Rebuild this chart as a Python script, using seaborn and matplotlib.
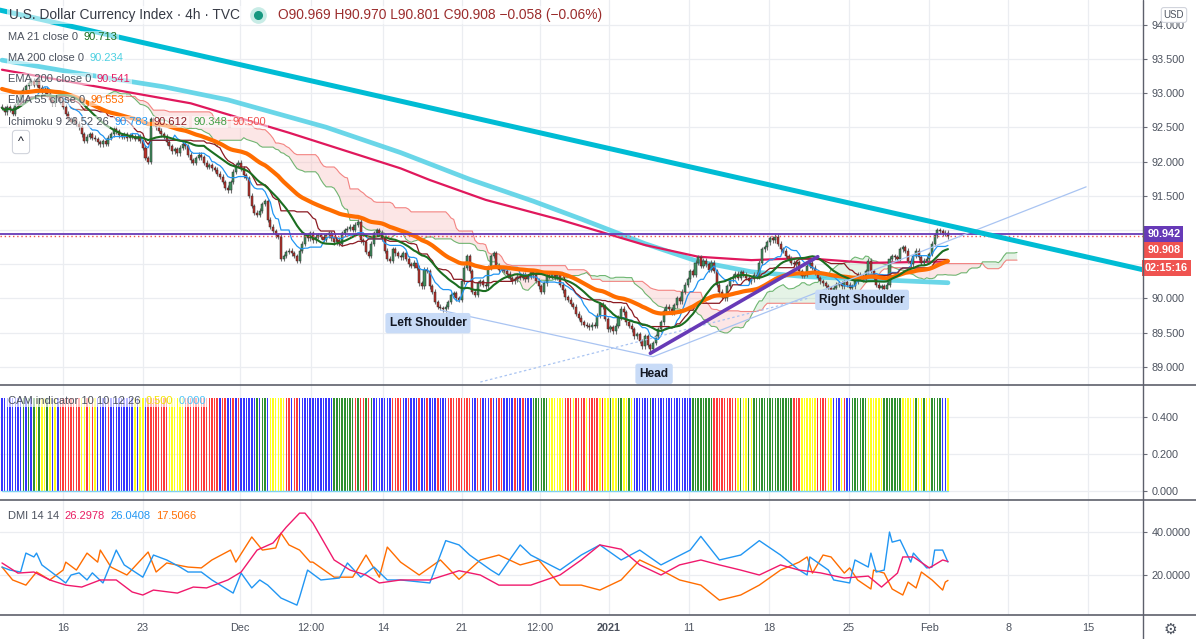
import numpy as np
import pandas as pd
import matplotlib
matplotlib.use("Agg")
import matplotlib.pyplot as plt
from matplotlib.lines import Line2D
import seaborn as sns

# ---------------- data ----------------
CLOSES = [
    92.78, 92.72, 92.80, 92.76, 92.70, 92.82, 92.90, 92.98, 93.05, 93.10,
    93.15, 93.18, 93.12, 93.20, 93.08, 93.02, 93.06, 92.98, 92.90, 92.85,
    92.92, 92.95, 92.88, 92.80, 92.70, 92.62, 92.58, 92.62, 92.55, 92.50,
    92.40, 92.30, 92.36, 92.40, 92.35, 92.33, 92.28, 92.25, 92.30, 92.26,
    92.35, 92.40, 92.48, 92.44, 92.38, 92.36, 92.40, 92.34, 92.38, 92.36,
    92.33, 92.36, 92.30, 92.20, 92.05, 92.00, 92.62, 92.55, 92.50, 92.45,
    92.40, 92.36, 92.28, 92.22, 92.15, 92.18, 92.12, 92.20, 92.26, 92.22,
    92.10, 92.02, 91.98, 92.05, 92.10, 92.06, 91.98, 91.92, 91.95, 91.90,
    91.88, 91.82, 91.78, 91.70, 91.62, 91.58, 91.70, 91.85, 91.95, 91.98,
    91.90, 91.80, 91.76, 91.50, 91.35, 91.25, 91.22, 91.28, 91.38, 91.42,
    91.15, 91.05, 90.98, 90.92, 90.90, 90.58, 90.62, 90.68, 90.70, 90.66,
    90.62, 90.55, 90.70, 90.80, 90.92, 90.88, 90.95, 90.85, 90.90, 90.92,
    90.90, 90.86, 90.92, 90.95, 90.88, 90.82, 90.86, 90.80, 90.95, 91.00,
    91.02, 91.05, 91.00, 91.08, 91.12, 90.85, 90.82, 90.68, 90.62, 90.80,
    90.95, 91.00, 90.96, 90.88, 90.70, 90.58, 90.55, 90.72, 90.66, 90.62,
    90.60, 90.66, 90.58, 90.50, 90.48, 90.52, 90.45, 90.22, 90.18, 90.42,
    90.40, 90.18, 90.10, 89.95, 89.88, 89.86, 89.84, 89.88, 89.95, 90.05,
    90.08, 90.00, 89.98, 90.25, 90.45, 90.62, 90.40, 90.10, 90.05, 90.22,
    90.25, 90.20, 90.18, 90.45, 90.62, 90.66, 90.48, 90.42, 90.44, 90.40,
    90.36, 90.30, 90.25, 90.28, 90.32, 90.30, 90.35, 90.28, 90.32, 90.38,
    90.34, 90.26, 90.18, 90.10, 90.22, 90.35, 90.32, 90.36, 90.30, 90.34,
    90.20, 90.12, 90.02, 89.98, 89.92, 89.88, 89.78, 89.72, 89.65, 89.62,
    89.60, 89.58, 89.62, 89.60, 89.75, 89.92, 89.88, 89.70, 89.55, 89.58,
    89.52, 89.60, 89.72, 89.85, 89.80, 89.65, 89.60, 89.55, 89.45, 89.48,
    89.38, 89.30, 89.45, 89.32, 89.26, 89.35, 89.45, 89.55, 89.65, 89.82,
    89.88, 89.84, 89.80, 89.90, 90.00, 89.96, 90.10, 90.20, 90.28, 90.40,
    90.35, 90.52, 90.60, 90.48, 90.55, 90.50, 90.42, 90.52, 90.40, 90.20,
    90.10, 90.02, 90.00, 90.18, 90.28, 90.32, 90.36, 90.30, 90.38, 90.35,
    90.30, 90.25, 90.28, 90.35, 90.32, 90.52, 90.72, 90.75, 90.82, 90.88,
    90.85, 90.90, 90.80, 90.72, 90.70, 90.62, 90.58, 90.52, 90.50, 90.53,
    90.40, 90.33, 90.35, 90.48, 90.52, 90.45, 90.38, 90.30, 90.25, 90.22,
    90.18, 90.15, 90.12, 90.16, 90.20, 90.22, 90.18, 90.24, 90.20, 90.16,
    90.18, 90.25, 90.35, 90.32, 90.28, 90.40, 90.55, 90.40, 90.30, 90.20,
    90.15, 90.18, 90.14, 90.20, 90.58, 90.62, 90.60, 90.58, 90.72, 90.75,
    90.70, 90.55, 90.50, 90.62, 90.70, 90.60, 90.52, 90.55, 90.58, 90.65,
    90.80, 90.92, 91.00, 90.98, 90.95, 90.96, 90.908,
]
FIRST_OPEN = 92.80
WICK = 0.035

MA200_X = [0, 30, 61, 85, 122, 150, 176, 200, 218, 242, 262, 282, 302, 332, 356]
MA200_Y = [93.48, 93.28, 93.09, 92.90, 92.50, 92.13, 91.74, 91.42, 91.16, 90.80,
           90.54, 90.39, 90.32, 90.27, 90.23]
EMA200_X = [0, 71, 108, 150, 161, 182, 210, 242, 262, 282, 302, 326, 356]
EMA200_Y = [93.34, 92.85, 92.42, 91.90, 91.73, 91.44, 91.15, 90.78, 90.61, 90.56,
            90.59, 90.52, 90.54]
EMA55_SEED = 93.07

# drawings (bar index, price)
TREND_X = [-0.75, 429.4]
TREND_Y = [94.21, 90.42]
NECK_X = [244, 307]
NECK_Y = [89.20, 90.61]
HS_X = [165, 245, 408]
HS_Y = [89.83, 89.15, 91.63]
HS_DOT_X = [180, 304]
HS_DOT_Y = [88.78, 90.01]
LAST_LEVEL = 90.942
LAST_PRICE = 90.908

CAM_RUNS = [
    "BBBBBBBB", "GBGBG", "YGYYG", "YBYB", "RRRRRRRR", "YYRYRY", "BBBBRBBBBBBBBB",
    "YBYYB", "RRRRRRRR", "YYYYYY", "RRRRRRRRRRRR", "RBRRBBRBRB", "BBBBB", "GBGGB",
    "YYYYYY", "RRBRRB", "BBBBBBBBBBBB", "GGGGGGGG", "RGRRGRG", "BBBBBBB", "RRRR",
    "BBRBBBRBBRBBBRBBB", "RRRRRRRRR", "BBRRBBBRBBRRBBBBRBBRBBB", "GGGGGG", "YYYYYY",
    "RRRYRRRRYRRRRYR", "YYGYYGGYYGY", "BBBBBBGBBBBBBBBBBBBBBB", "GGGGGGGG",
    "RRRRRRRRR", "YGYYGY", "GGGGGGGGGGGGGGG", "RRR", "YYYYYY", "RRRR", "YY", "BBB",
    "YR", "BB", "GGGGGG", "YYYYYY", "GGGGGGG", "YYYY", "YGYYGYY", "GGGG", "BB", "Y",
]
CAM_HEIGHT = 0.5

ADX_X = [0, 6, 12, 18, 24, 30, 37, 43, 49, 53, 57, 66, 72, 77, 85, 90, 96, 102, 107, 112,
         114, 117, 125, 131, 137, 142, 150, 161, 172, 180, 187, 199, 210, 218, 225, 233,
         240, 248, 255, 263, 270, 278, 285, 293, 300, 308, 317, 326, 331, 337, 339, 343,
         349, 354, 356]
ADX_Y = [25.6, 20.9, 21.4, 17.7, 15.3, 14.4, 17.7, 17.7, 12.1, 10.7, 13.0, 11.6, 14.4,
         14.0, 17.7, 21.4, 31.6, 34.9, 42.3, 48.8, 48.8, 44.2, 27.0, 22.3, 20.0, 16.3,
         17.7, 17.7, 22.0, 20.0, 15.3, 15.3, 20.0, 27.0, 34.0, 32.0, 24.7, 20.0, 24.7,
         27.0, 24.7, 22.3, 20.0, 24.7, 22.3, 21.0, 18.6, 19.5, 14.4, 20.9, 28.4, 28.4,
         23.3, 27.0, 26.3]
PDI_X = [0, 3, 7, 9, 12, 13, 15, 19, 24, 26, 29, 32, 34, 38, 43, 46, 53, 57, 62, 67,
         70, 75, 79, 87, 90, 94, 97, 100, 105, 111, 112, 115, 120, 127, 130, 135, 140,
         145, 150, 161, 167, 172, 176, 184, 187, 195, 199, 210, 218, 225, 233, 240, 248,
         259, 263, 270, 278, 285, 293, 300, 303, 304, 311, 313, 319, 321, 326, 327, 329,
         332, 334, 335, 338, 342, 343, 348, 350, 351, 354, 356]
PDI_Y = [23.7, 22.3, 21.4, 30.2, 28.4, 30.2, 24.7, 21.0, 16.3, 20.0, 21.0, 17.7, 21.0,
         16.3, 31.6, 24.7, 19.0, 29.3, 27.0, 23.7, 21.4, 21.4, 17.7, 11.6, 20.9, 14.0,
         17.7, 15.3, 9.3, 6.0, 9.7, 22.3, 17.7, 18.6, 25.6, 19.0, 23.7, 17.7, 17.7, 16.3,
         36.0, 34.0, 29.3, 22.3, 20.0, 34.0, 29.3, 22.3, 29.3, 34.0, 27.0, 31.6, 24.7,
         31.6, 38.0, 27.0, 29.3, 36.0, 29.3, 22.3, 20.0, 28.4, 22.3, 17.7, 16.3, 27.0,
         23.7, 30.2, 21.4, 22.3, 40.0, 35.3, 36.3, 26.0, 30.2, 23.3, 23.7, 31.6, 31.6,
         26.0]
MDI_X = [0, 4, 9, 13, 18, 23, 24, 28, 32, 36, 37, 41, 47, 55, 58, 62, 70, 75, 79, 86,
         88, 94, 98, 103, 105, 108, 112, 116, 117, 125, 132, 137, 142, 145, 150, 157,
         165, 172, 180, 187, 195, 202, 210, 218, 225, 233, 240, 248, 255, 263, 270, 278,
         285, 293, 300, 303, 305, 309, 312, 317, 319, 322, 327, 328, 332, 335, 339, 341,
         344, 346, 350, 354, 355, 356]
MDI_Y = [23.7, 17.7, 15.3, 21.4, 17.7, 22.3, 26.0, 22.3, 30.2, 26.0, 31.6, 23.7, 20.0,
         30.7, 21.4, 25.6, 23.7, 23.3, 27.0, 31.6, 26.0, 37.7, 31.6, 32.6, 39.5, 34.0,
         31.6, 26.0, 26.0, 19.0, 19.0, 29.3, 19.0, 33.0, 26.0, 20.0, 27.0, 18.0, 27.0,
         29.3, 24.7, 27.0, 15.3, 15.3, 13.0, 17.7, 27.0, 22.3, 17.7, 15.3, 8.3, 10.7,
         15.3, 22.3, 26.0, 28.4, 20.9, 29.3, 28.4, 20.9, 23.3, 17.7, 13.5, 22.3, 20.9,
         13.5, 10.7, 16.7, 14.0, 21.4, 17.7, 13.0, 16.7, 17.5]

DATE_POS = [22.96, 53.07, 89.57, 116.30, 143.40, 173.13, 202.48, 228.45, 258.56,
            288.67, 318.78, 348.89, 378.62, 408.73]
DATE_LABELS = ["16", "23", "Dec", "12:00", "14", "21", "12:00", "2021", "11", "18",
               "25", "Feb", "8", "15"]
PRICE_TICKS = [89.0, 89.5, 90.0, 90.5, 91.0, 91.5, 92.0, 92.5, 93.0, 93.5, 94.0]
PRICE_HIDDEN = [90.5, 91.0]
CAM_TICKS = [0.0, 0.2, 0.4]
DMI_TICKS = [20, 40]

# ---------------- derived series ----------------
close = np.array(CLOSES)
n = len(close)
idx = np.arange(n)
opn = np.r_[FIRST_OPEN, close[:-1]]
high = np.maximum(opn, close) + WICK
low = np.minimum(opn, close) - WICK
s_close = pd.Series(close)
s_high = pd.Series(high)
s_low = pd.Series(low)
ma21 = s_close.rolling(21, min_periods=1).mean().values
ema55 = []
e = EMA55_SEED
for v in close:
    e += (2.0 / 56.0) * (v - e)
    ema55.append(e)
ema55 = np.array(ema55)
conv = ((s_high.rolling(9, min_periods=1).max() + s_low.rolling(9, min_periods=1).min()) / 2).values
base = ((s_high.rolling(26, min_periods=1).max() + s_low.rolling(26, min_periods=1).min()) / 2).values
spanA = (conv + base) / 2
spanB = ((s_high.rolling(52, min_periods=1).max() + s_low.rolling(52, min_periods=1).min()) / 2).values
span_x = idx + 26

cam = "".join(CAM_RUNS)[:n]
CAM_COL = {"B": "#3535ff", "R": "#ff3b3b", "G": "#2f8f2f", "Y": "#ffff1e"}

# ---------------- figure ----------------
sns.set_theme(style="white")
plt.rcParams["font.family"] = ["Liberation Sans", "DejaVu Sans"]
plt.rcParams["axes.unicode_minus"] = False

W, H = 1196, 639
PW = 1143
fig = plt.figure(figsize=(W / 100, H / 100), dpi=100)
fig.patch.set_facecolor("white")


def rect(top, bottom):
    return [0, 1 - bottom / H, PW / W, (bottom - top) / H]


ax = fig.add_axes(rect(0, 385))
ax_cam = fig.add_axes(rect(385, 500))
ax_dmi = fig.add_axes(rect(500, 615))

GRID = "#ebedf1"
TXT = "#4c525e"
XLIM = (-0.75, 429.4)
for a in (ax, ax_cam, ax_dmi):
    a.set_facecolor("white")
    a.set_xlim(*XLIM)
    for sp in a.spines.values():
        sp.set_visible(False)
    a.set_xticks(DATE_POS)
    a.grid(True, color=GRID, lw=0.9)
    a.set_axisbelow(True)
    a.yaxis.tick_right()
    a.tick_params(axis="y", direction="out", length=3, width=0.8, color="#6a6d78",
                  labelsize=7.8, labelcolor=TXT, pad=3)
    a.tick_params(axis="x", length=0)
    a.set_xlabel("")
    a.set_ylabel("")
ax.tick_params(axis="x", labelbottom=False)
ax_cam.tick_params(axis="x", labelbottom=False)
ax_dmi.set_xticklabels(DATE_LABELS)
ax_dmi.tick_params(axis="x", labelsize=7.8, labelcolor=TXT, pad=6)
for lab in ax_dmi.get_xticklabels():
    if lab.get_text() == "2021":
        lab.set_fontweight("bold")

# ---- main price pane ----
ax.set_ylim(88.737, 94.358)
ax.set_yticks(PRICE_TICKS)
ax.set_yticklabels(["" if t in PRICE_HIDDEN else f"{t:.3f}" for t in PRICE_TICKS])

# ichimoku cloud
ax.fill_between(span_x, spanA, spanB, where=spanA >= spanB, interpolate=True,
                color="#a5d6a7", alpha=0.28, lw=0, zorder=1)
ax.fill_between(span_x, spanA, spanB, where=spanA < spanB, interpolate=True,
                color="#f8b4b4", alpha=0.33, lw=0, zorder=1)
sns.lineplot(x=span_x, y=spanA, ax=ax, color="#43a047", lw=0.8, alpha=0.75, zorder=1.5)
sns.lineplot(x=span_x, y=spanB, ax=ax, color="#f0605d", lw=0.8, alpha=0.75, zorder=1.5)

# long moving averages
sns.lineplot(x=MA200_X, y=MA200_Y, ax=ax, color="#5ad2e6", lw=3.4, alpha=0.9, zorder=2)
sns.lineplot(x=EMA200_X, y=EMA200_Y, ax=ax, color="#e0185c", lw=1.6, zorder=2.1)

# candles
up = close >= opn
ax.vlines(idx, low, high, color="#707070", lw=0.8, zorder=3)
ax.bar(idx, np.maximum(np.abs(close - opn), 0.01), bottom=np.minimum(opn, close),
       width=0.78, color=np.where(up, "#3f8f5e", "#b93029"), edgecolor="#2b2b2b",
       linewidth=0.35, zorder=3.2)

# ichimoku conversion/base
sns.lineplot(x=idx, y=conv, ax=ax, color="#2196f3", lw=0.9, zorder=3.5)
sns.lineplot(x=idx, y=base, ax=ax, color="#8b1a22", lw=0.9, zorder=3.5)
# short averages
sns.lineplot(x=idx, y=ema55, ax=ax, color="#ff6d00", lw=3.0, zorder=3.8)
sns.lineplot(x=idx, y=ma21, ax=ax, color="#1b6e20", lw=1.5, zorder=3.9)

# horizontal price lines
ax.axhline(LAST_LEVEL, color="#673ab7", lw=1.3, zorder=4)
ax.axhline(LAST_PRICE, color="#ef5350", lw=1.0, ls=(0, (1, 2)), zorder=4)

# drawings
sns.lineplot(x=HS_X, y=HS_Y, ax=ax, color="#a9c4f2", lw=0.9, sort=False, zorder=4.2)
ax.plot(HS_DOT_X, HS_DOT_Y, color="#a9c4f2", lw=0.9, ls=(0, (2, 2)), zorder=4.2)
sns.lineplot(x=NECK_X, y=NECK_Y, ax=ax, color="#673ab7", lw=2.6, zorder=4.5)
sns.lineplot(x=TREND_X, y=TREND_Y, ax=ax, color="#00bcd4", lw=3.6, zorder=4.6)

lab_kw = dict(ha="center", va="center", fontsize=8.6, fontweight="bold", color="#131722",
              zorder=6, bbox=dict(boxstyle="round,pad=0.35,rounding_size=0.2",
                                  fc="#c8dbf7", ec="none"))
ax.text(160.3, 89.64, "Left Shoulder", **lab_kw)
ax.text(245.4, 88.90, "Head", **lab_kw)
ax.text(323.7, 89.98, "Right Shoulder", **lab_kw)

# right-side price boxes
ytr = ax.get_yaxis_transform()
box_kw = dict(xycoords=ytr, textcoords="offset points", ha="left", va="center",
              fontsize=7.8, fontweight="bold", color="white", annotation_clip=False,
              zorder=30)
ax.annotate(f"{LAST_LEVEL:.3f}", xy=(1.0, LAST_LEVEL), xytext=(3, 0),
            bbox=dict(boxstyle="square,pad=0.28", fc="#673ab7", ec="none"), **box_kw)
ax.annotate(f"{LAST_PRICE:.3f}", xy=(1.0, 90.708), xytext=(3, 0),
            bbox=dict(boxstyle="square,pad=0.28", fc="#ef5350", ec="none"), **box_kw)
ax.annotate("02:15:16", xy=(1.0, 90.445), xytext=(1.5, 0),
            bbox=dict(boxstyle="square,pad=0.28", fc="#ef5350", ec="none"), **box_kw)
ax.annotate("USD", xy=(1174, H - 15), xycoords="figure pixels", ha="center", va="center",
            fontsize=7, color=TXT, annotation_clip=False, zorder=30,
            bbox=dict(boxstyle="round,pad=0.25", fc="white", ec="#d1d4dc", lw=0.8))


def legend_row(axis, x_px, y_px, parts, size=8.0, gap=4.0, bg=0.55):
    prev = None
    for text, color, weight in parts:
        kw = dict(color=color, fontsize=size, fontweight=weight, va="center", ha="left",
                  annotation_clip=False, zorder=25)
        if bg:
            kw["bbox"] = dict(boxstyle="square,pad=0.12", fc="white", ec="none", alpha=bg)
        if prev is None:
            prev = axis.annotate(text, xy=(x_px, H - y_px), xycoords="figure pixels", **kw)
        else:
            prev = axis.annotate(text, xy=(1, 0.5), xycoords=prev, xytext=(gap, 0),
                                 textcoords="offset points", **kw)
    return prev


legend_row(ax, 9, 15, [("U.S. Dollar Currency Index · 4h · TVC", "#363a45", "normal")],
           size=9.9, bg=0.6)
fig.add_artist(Line2D([258 / W], [1 - 15 / H], marker="o", ms=11, color="#c8ece6",
                      transform=fig.transFigure, zorder=25))
fig.add_artist(Line2D([258 / W], [1 - 15 / H], marker="o", ms=5.5, color="#16977f",
                      transform=fig.transFigure, zorder=26))
legend_row(ax, 278, 15, [("O90.969 H90.970 L90.801 C90.908 −0.058 (−0.06%)", "#9b2c2c",
                          "normal")], size=9.9, bg=0.6)
legend_row(ax, 8, 37, [("MA 21 close 0", TXT, "normal"), ("90.713", "#1b6e20", "normal")])
legend_row(ax, 8, 58, [("MA 200 close 0", TXT, "normal"), ("90.234", "#4dd0e1", "normal")])
legend_row(ax, 8, 79, [("EMA 200 close 0", TXT, "normal"), ("90.541", "#e91e63", "normal")])
legend_row(ax, 8, 100, [("EMA 55 close 0", TXT, "normal"), ("90.553", "#ff6d00", "normal")])
legend_row(ax, 8, 122, [("Ichimoku 9 26 52 26", TXT, "normal"), ("90.783", "#2196f3", "normal"),
                        ("90.612", "#8b1a22", "normal"), ("90.348", "#43a047", "normal"),
                        ("90.500", "#f0504d", "normal")])
ax.annotate("^", xy=(21, H - 142), xycoords="figure pixels", ha="center", va="center",
            fontsize=9, color="#131722", annotation_clip=False, zorder=25,
            bbox=dict(boxstyle="round,pad=0.45,rounding_size=0.25", fc="white",
                      ec="#d1d4dc", lw=0.8))

# ---- CAM pane ----
ax_cam.set_ylim(-0.049, 0.573)
ax_cam.set_yticks(CAM_TICKS)
ax_cam.set_yticklabels([f"{t:.3f}" for t in CAM_TICKS])
ax_cam.bar(idx, [CAM_HEIGHT] * n, width=0.55, color=[CAM_COL[ch] for ch in cam],
           linewidth=0, zorder=2)
sns.lineplot(x=[idx[0], idx[-1]], y=[0, 0], ax=ax_cam, color="#7fd3f2", lw=1.0, zorder=3)
legend_row(ax_cam, 8, 401, [("CAM indicator 10 10 12 26", TXT, "normal"),
                            ("0.500", "#f2e600", "normal"), ("0.000", "#4fc3f7", "normal")],
           bg=0.65)

# ---- DMI pane ----
ax_dmi.set_ylim(1.4, 54.9)
ax_dmi.set_yticks(DMI_TICKS)
ax_dmi.set_yticklabels([f"{t:.4f}" for t in DMI_TICKS])
sns.lineplot(x=MDI_X, y=MDI_Y, ax=ax_dmi, color="#ff6d00", lw=1.0, zorder=3)
sns.lineplot(x=PDI_X, y=PDI_Y, ax=ax_dmi, color="#2196f3", lw=1.0, zorder=3)
sns.lineplot(x=ADX_X, y=ADX_Y, ax=ax_dmi, color="#f0196c", lw=1.0, zorder=3)
legend_row(ax_dmi, 8, 516, [("DMI 14 14", TXT, "normal"), ("26.2978", "#e91e63", "normal"),
                            ("26.0408", "#2196f3", "normal"), ("17.5066", "#ff6d00", "normal")],
           bg=0.0)

# separators and price axis line
for y in (385, 500, 615):
    fig.add_artist(Line2D([0, 1], [1 - y / H] * 2, transform=fig.transFigure,
                          color="#5d606b", lw=1.2, zorder=40))
fig.add_artist(Line2D([PW / W] * 2, [0, 1], transform=fig.transFigure,
                      color="#5d606b", lw=1.0, zorder=40))
fig.text(1170 / W, 1 - 629 / H, "⚙", ha="center", va="center", fontsize=11,
         color="#4c525e", family=["DejaVu Sans"])

fig.savefig("out.png", dpi=100, facecolor="white")
